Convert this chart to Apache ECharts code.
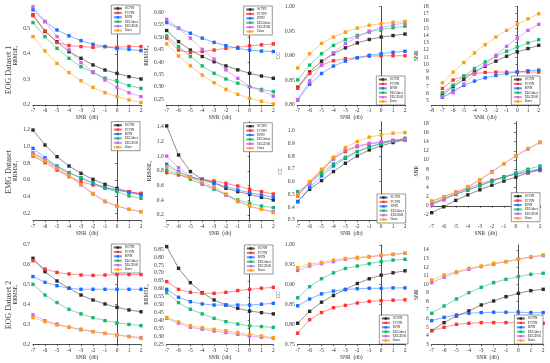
<!DOCTYPE html>
<html><head><meta charset="utf-8">
<script src="https://cdn.jsdelivr.net/npm/echarts@6/dist/echarts.min.js"></script>
<style>html,body{margin:0;padding:0;background:#fff}#c{width:550px;height:363px}</style>
</head><body><div id="c"></div><script>
const snrLevels = [-7,-6,-5,-4,-3,-2,-1,0,1,2];
const methods = ['SCNN','FCNN','RNN','EEGdnet','EEGDiR','Ours'];
const rowTitles = ['EOG Dataset 1','EMG Dataset','EOG Dataset 2'];

// values per panel, rows in methods order
const eog1RrmseT = [
  [0.553,0.488,0.448,0.409,0.383,0.357,0.337,0.324,0.311,0.302],
  [0.550,0.490,0.445,0.433,0.429,0.426,0.429,0.426,0.429,0.429],
  [0.573,0.527,0.494,0.471,0.452,0.438,0.429,0.421,0.418,0.413],
  [0.523,0.468,0.422,0.383,0.350,0.327,0.305,0.292,0.276,0.265],
  [0.585,0.527,0.468,0.416,0.366,0.331,0.298,0.269,0.248,0.233],
  [0.468,0.412,0.363,0.327,0.295,0.269,0.248,0.233,0.220,0.210]];
const eog1RrmseS = [
  [0.528,0.483,0.449,0.423,0.402,0.385,0.369,0.355,0.344,0.335],
  [0.497,0.449,0.439,0.443,0.449,0.456,0.460,0.466,0.470,0.474],
  [0.560,0.537,0.517,0.497,0.480,0.467,0.456,0.449,0.445,0.443],
  [0.506,0.463,0.423,0.385,0.355,0.332,0.315,0.301,0.290,0.281],
  [0.573,0.537,0.497,0.452,0.412,0.369,0.335,0.301,0.285,0.263],
  [0.474,0.425,0.385,0.348,0.317,0.290,0.270,0.254,0.242,0.231]];
const eog1CC = [
  [0.836,0.867,0.889,0.904,0.916,0.926,0.933,0.938,0.941,0.944],
  [0.834,0.864,0.881,0.890,0.894,0.896,0.899,0.900,0.900,0.900],
  [0.810,0.842,0.864,0.879,0.889,0.896,0.901,0.904,0.907,0.909],
  [0.851,0.881,0.904,0.921,0.933,0.941,0.948,0.954,0.957,0.960],
  [0.811,0.849,0.881,0.906,0.925,0.938,0.950,0.957,0.963,0.966],
  [0.875,0.904,0.925,0.938,0.948,0.956,0.962,0.965,0.968,0.970]];
const eog1SNR = [
  [5.78,6.92,7.93,8.98,9.76,10.45,11.13,11.73,12.19,12.64],
  [6.69,7.84,8.39,8.75,8.89,8.94,8.94,8.98,8.94,8.94],
  [5.46,6.33,7.11,7.70,8.16,8.48,8.75,8.94,9.12,9.21],
  [6.10,7.15,8.39,9.44,10.35,11.13,11.82,12.41,12.96,13.42],
  [5.55,6.10,7.29,8.66,9.90,11.27,12.51,13.65,14.70,15.53],
  [7.47,8.94,10.26,11.59,12.73,13.79,14.70,15.53,16.30,16.99]];
const emgRrmseT = [
  [1.20,1.02,0.88,0.768,0.68,0.608,0.548,0.50,0.46,0.43],
  [0.888,0.808,0.72,0.64,0.58,0.54,0.508,0.48,0.46,0.44],
  [0.98,0.868,0.768,0.688,0.62,0.56,0.512,0.48,0.448,0.42],
  [0.92,0.84,0.76,0.688,0.628,0.568,0.50,0.46,0.408,0.38],
  [0.928,0.848,0.74,0.66,0.54,0.432,0.34,0.288,0.248,0.22],
  [0.90,0.828,0.74,0.648,0.548,0.44,0.348,0.288,0.248,0.22]];
const emgRrmseS = [
  [1.41,1.015,0.789,0.685,0.639,0.562,0.517,0.481,0.44,0.404],
  [0.775,0.743,0.712,0.685,0.662,0.630,0.594,0.549,0.517,0.485],
  [0.888,0.789,0.721,0.676,0.630,0.585,0.540,0.503,0.472,0.44],
  [0.811,0.753,0.685,0.617,0.549,0.472,0.404,0.359,0.322,0.30],
  [1.0,0.843,0.721,0.630,0.562,0.472,0.381,0.322,0.277,0.245],
  [0.857,0.775,0.712,0.653,0.585,0.485,0.390,0.322,0.277,0.232]];
const emgCC = [
  [0.444,0.54,0.608,0.679,0.744,0.801,0.848,0.88,0.906,0.927],
  [0.488,0.60,0.679,0.783,0.835,0.874,0.895,0.908,0.919,0.927],
  [0.444,0.553,0.645,0.723,0.783,0.835,0.874,0.90,0.921,0.932],
  [0.522,0.587,0.666,0.739,0.791,0.835,0.869,0.895,0.919,0.94],
  [0.50,0.58,0.69,0.775,0.848,0.88,0.90,0.91,0.925,0.93],
  [0.496,0.60,0.697,0.791,0.867,0.914,0.948,0.966,0.979,0.984]];
const emgSNR = [
  [-1.5,-0.2,1.2,2.4,3.5,4.5,5.4,6.3,7.2,8.0],
  [1.0,2.0,3.0,3.8,4.8,5.6,6.3,6.9,7.3,7.7],
  [0.4,1.4,2.5,3.5,4.4,5.4,6.3,7.0,7.6,8.0],
  [0.6,1.6,2.6,3.4,4.4,5.4,6.3,7.2,8.0,8.7],
  [0.2,1.3,2.7,4.0,5.7,7.5,9.2,10.9,12.4,13.9],
  [1.0,2.0,2.9,4.2,5.7,7.3,9.2,10.9,12.5,13.8]];
const eog2RrmseT = [
  [0.633,0.566,0.519,0.482,0.448,0.423,0.403,0.386,0.373,0.364],
  [0.621,0.579,0.562,0.554,0.549,0.547,0.549,0.551,0.551,0.551],
  [0.541,0.512,0.495,0.482,0.477,0.477,0.477,0.477,0.477,0.477],
  [0.502,0.448,0.410,0.376,0.353,0.334,0.319,0.309,0.300,0.294],
  [0.348,0.319,0.302,0.286,0.276,0.264,0.255,0.247,0.239,0.234],
  [0.334,0.314,0.297,0.286,0.272,0.264,0.255,0.247,0.239,0.230]];
const eog2RrmseS = [
  [0.867,0.73,0.639,0.576,0.53,0.498,0.477,0.46,0.45,0.442],
  [0.646,0.597,0.578,0.572,0.572,0.578,0.589,0.597,0.604,0.61],
  [0.597,0.547,0.519,0.505,0.498,0.498,0.498,0.498,0.503,0.509],
  [0.576,0.513,0.471,0.442,0.414,0.393,0.378,0.366,0.362,0.357],
  [0.414,0.383,0.357,0.345,0.334,0.324,0.313,0.303,0.294,0.288],
  [0.42,0.391,0.368,0.355,0.345,0.336,0.324,0.313,0.303,0.292]];
const eog2CC = [
  [0.803,0.833,0.856,0.873,0.888,0.903,0.915,0.924,0.93,0.935],
  [0.778,0.812,0.83,0.842,0.848,0.854,0.858,0.86,0.861,0.862],
  [0.847,0.864,0.877,0.884,0.888,0.89,0.891,0.891,0.892,0.892],
  [0.867,0.895,0.915,0.93,0.941,0.947,0.953,0.958,0.962,0.964],
  [0.936,0.947,0.953,0.958,0.964,0.967,0.97,0.973,0.976,0.979],
  [0.943,0.952,0.956,0.962,0.966,0.969,0.971,0.975,0.977,0.98]];
const eog2SNR = [
  [4.6,5.53,6.31,6.89,7.59,8.06,8.56,8.95,9.26,9.42],
  [4.6,4.98,5.33,5.45,5.53,5.53,5.53,5.53,5.53,5.45],
  [5.76,6.15,6.42,6.62,6.7,6.74,6.74,6.74,6.7,6.7],
  [6.62,7.47,8.29,9.03,9.65,10.2,10.59,10.9,11.17,11.29],
  [10.2,10.82,11.37,11.75,12.07,12.34,12.65,12.92,13.16,13.35],
  [10.51,11.09,11.48,11.87,12.14,12.46,12.65,12.92,13.23,13.43]];

// tick labels
const ticksA = [0.2,0.3,0.4,0.5];
const ticksB = [0.25,0.30,0.35,0.40,0.45,0.50,0.55,0.60];
const ticksC = [0.80,0.85,0.90,0.95,1.00];
const ticksD = [5,6,7,8,9,10,11,12,13,14,15,16,17,18];
const ticksE = [0.2,0.4,0.6,0.8,1.0,1.2];
const ticksF = [0.2,0.4,0.6,0.8,1.0,1.2,1.4];
const ticksG = [0.3,0.4,0.5,0.6,0.7,0.8,0.9,1.0];
const ticksH = [-2,0,2,4,6,8,10,12,14,16,18];
const ticksI = [0.2,0.3,0.4,0.5,0.6,0.7];
const ticksJ = [0.25,0.30,0.35,0.40,0.45,0.50,0.55,0.60,0.65,0.70,0.75,0.80,0.85];
const ticksK = [0.75,0.80,0.85,0.90,0.95,1.00];
const ticksL = [3,4,5,6,7,8,9,10,11,12,13,14];

const colors = ['#2b2b2b','#ff3333','#1a6dff','#17b86c','#cc66ee','#f5a11c'];

const panels = [
  {d:eog1RrmseT,t:ticksA,dec:1,min:0.2,max:0.586,name:'RRMSE{s|t}',xmin:-7},
  {d:eog1RrmseS,t:ticksB,dec:2,min:0.227,max:0.625,name:'RRMSE{s|s}',xmin:-7},
  {d:eog1CC,t:ticksC,dec:2,min:0.8,max:1.0,name:'CC',xmin:-7},
  {d:eog1SNR,t:ticksD,dec:0,min:4.4,max:18,name:'SNR',xmin:-8},
  {d:emgRrmseT,t:ticksE,dec:1,min:0.114,max:1.30,name:'RRMSE{s|t}',xmin:-7},
  {d:emgRrmseS,t:ticksF,dec:1,min:0.125,max:1.467,name:'RRMSE{s|s}',xmin:-7},
  {d:emgCC,t:ticksG,dec:1,min:0.296,max:1.069,name:'CC',xmin:-7},
  {d:emgSNR,t:ticksH,dec:0,min:-3.2,max:18.37,name:'SNR',xmin:-7},
  {d:eog2RrmseT,t:ticksI,dec:1,min:0.2,max:0.7,name:'RRMSE{s|t}',xmin:-7},
  {d:eog2RrmseS,t:ticksJ,dec:2,min:0.25,max:0.877,name:'RRMSE{s|s}',xmin:-7},
  {d:eog2CC,t:ticksK,dec:2,min:0.75,max:1.0,name:'CC',xmin:-7},
  {d:eog2SNR,t:ticksL,dec:0,min:3,max:14.59,name:'SNR',xmin:-7}
];

// layout
const rowRects = [[6.5,98.5],[121.7,98.8],[245,99.3]];
const colRects = [[33,108],[166.7,106.6],[297.7,107.3],[431.7,107]];
const col4W = [107,108.3,111.5];
const legendPos = [[140,5],[272.3,6],[405,76],[540,76],[140,121.7],[272.3,122.7],[405.7,194],[540,192.7],[140,244],[273,245],[408,315],[543,315]];
const rowLabelY = [70,172,305];

const FONT = 'Liberation Serif';
const grid=[], xAxis=[], yAxis=[], series=[], legend=[], graphic=[];
panels.forEach((p,i)=>{
  const r=Math.floor(i/4), c=i%4;
  const w = c===3 ? col4W[r] : colRects[c][1];
  grid.push({left:colRects[c][0], top:rowRects[r][0], width:w, height:rowRects[r][1], containLabel:false});
  xAxis.push({type:'value', gridIndex:i, min:p.xmin, max:2, interval:1,
    name:'SNR  (db)', nameLocation:'middle', nameGap:10,
    nameTextStyle:{fontFamily:FONT,fontSize:5.5,color:'#333'},
    axisLine:{lineStyle:{color:'#222',width:0.8}},
    axisTick:{length:2,lineStyle:{color:'#222',width:0.6}},
    axisLabel:{fontFamily:FONT,fontSize:5.5,color:'#333',margin:3},
    splitLine:{show:false}});
  yAxis.push({type:'value', gridIndex:i, min:p.min, max:p.max,
    name:p.name, nameLocation:'middle', nameGap: p.dec===0?(p.t[p.t.length-1]>=10?10:8):(p.dec===2?14:11),
    nameTextStyle:{fontFamily:FONT,fontSize:5.5,color:'#333',rich:{s:{fontSize:3.8,padding:[3,0,0,0],fontFamily:FONT,color:'#333'}}},
    axisLine:{show:true,lineStyle:{color:'#222',width:0.8}},
    axisTick:{show:true,length:2,customValues:p.t,lineStyle:{color:'#222',width:0.6}},
    axisLabel:{show:true,customValues:p.t,fontFamily:FONT,fontSize:5.5,color:'#333',margin:3,
      formatter:v=>Number(v).toFixed(p.dec)},
    splitLine:{show:false}});
  methods.forEach((m,k)=>{
    series.push({type:'line', name:m, xAxisIndex:i, yAxisIndex:i,
      data:snrLevels.map((x,j)=>[x,p.d[k][j]]),
      symbol:'rect', symbolSize:3.4, showSymbol:true,
      itemStyle:{color:colors[k]},
      lineStyle:{color:colors[k],width:0.7,opacity:0.75},
      animation:false, z:2+k});
  });
  const lp = legendPos[i];
  legend.push({orient:'vertical', right:550-lp[0], top:lp[1], data:methods,
    itemWidth:8, itemHeight:3, itemGap:0.4, padding:[1.5,2,1.5,1.5],
    borderColor:'#333', borderWidth:0.5, backgroundColor:'#fff',
    textStyle:{fontFamily:FONT,fontSize:3.6,color:'#222',padding:[0,0,0,-2]},
    selectedMode:false});
});
rowTitles.forEach((t,r)=>{
  graphic.push({type:'text', x:9, y:rowLabelY[r], rotation:Math.PI/2,
    style:{text:t, font:'8px "Liberation Serif"', fill:'#444', align:'center', verticalAlign:'middle'}});
});

const chart = echarts.init(document.getElementById('c'), null, {renderer:'canvas'});
chart.setOption({animation:false, backgroundColor:'#fff', grid, xAxis, yAxis, series, legend, graphic});
</script></body></html>
